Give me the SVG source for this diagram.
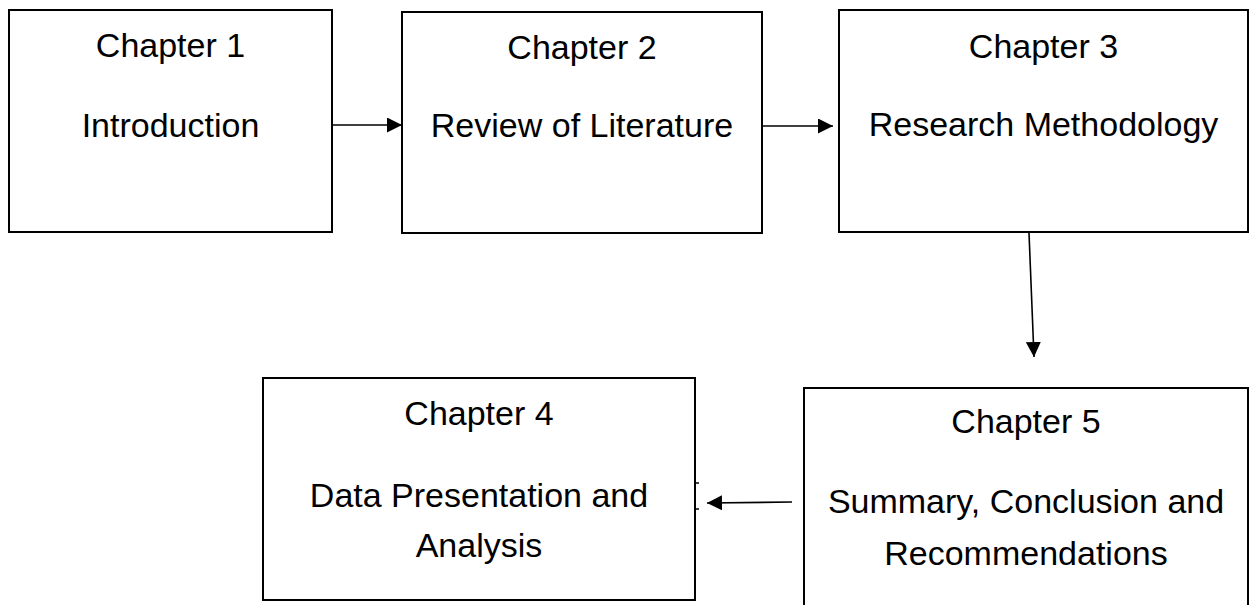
<svg xmlns="http://www.w3.org/2000/svg" width="1254" height="605" viewBox="0 0 1254 605">
  <style>
    .box { fill: #ffffff; stroke: #000000; stroke-width: 2; }
    .lbl { font-family: 'Liberation Sans', Arial, sans-serif; font-size: 34px; fill: #000000; text-anchor: middle; }
    .conn { stroke: #000000; stroke-width: 1.6; fill: none; }
  </style>
  <defs>
    <marker id="arrow" viewBox="0 0 15 15" markerWidth="15" markerHeight="15" markerUnits="userSpaceOnUse" refX="15" refY="7.5" orient="auto">
      <path d="M0,0 L15,7.5 L0,15 z" fill="#000000"/>
    </marker>
  </defs>
  <rect x="0" y="0" width="1254" height="605" fill="#ffffff"/>

  <g id="node-ch1">
    <rect class="box" x="9" y="10" width="323" height="222"/>
    <text class="lbl" x="170.5" y="57">Chapter 1</text>
    <text class="lbl" x="170.5" y="137">Introduction</text>
  </g>

  <g id="node-ch2">
    <rect class="box" x="402" y="12" width="360" height="221"/>
    <text class="lbl" x="582" y="59">Chapter 2</text>
    <text class="lbl" x="582" y="137">Review of Literature</text>
  </g>

  <g id="node-ch3">
    <rect class="box" x="839" y="10" width="409" height="222"/>
    <text class="lbl" x="1043.5" y="58">Chapter 3</text>
    <text class="lbl" x="1043.5" y="136">Research Methodology</text>
  </g>

  <g id="node-ch4">
    <rect class="box" x="263" y="378" width="432" height="222"/>
    <text class="lbl" x="479" y="425">Chapter 4</text>
    <text class="lbl" x="479" y="507">Data Presentation and</text>
    <text class="lbl" x="479" y="557">Analysis</text>
  </g>

  <g id="node-ch5">
    <rect class="box" x="804" y="388" width="444" height="240"/>
    <text class="lbl" x="1026" y="433">Chapter 5</text>
    <text class="lbl" x="1026" y="513">Summary, Conclusion and</text>
    <text class="lbl" x="1026" y="565">Recommendations</text>
  </g>

  <g id="connectors">
    <line class="conn" x1="333" y1="125" x2="402" y2="125" marker-end="url(#arrow)"/>
    <line class="conn" x1="763" y1="126" x2="833" y2="126" marker-end="url(#arrow)"/>
    <line class="conn" x1="1029" y1="233" x2="1034" y2="357" marker-end="url(#arrow)"/>
    <line class="conn" x1="792" y1="502" x2="707" y2="503" marker-end="url(#arrow)"/>
    <path class="conn" d="M695,483 H699 M695,509 H699"/>
  </g>
</svg>
